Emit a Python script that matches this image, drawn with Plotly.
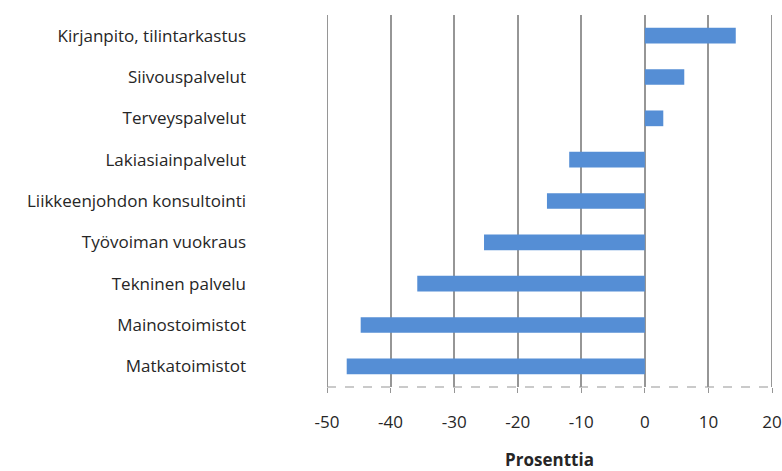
import plotly.graph_objects as go

categories = ["Matkatoimistot", "Mainostoimistot", "Tekninen palvelu", "Työvoiman vuokraus",
              "Liikkeenjohdon konsultointi", "Lakiasiainpalvelut", "Terveyspalvelut",
              "Siivouspalvelut", "Kirjanpito, tilintarkastus"]
values = [-46.9, -44.7, -35.8, -25.3, -15.4, -11.9, 2.9, 6.2, 14.3]
x_ticks = [-50, -40, -30, -20, -10, 0, 10, 20]
x_title = "Prosenttia"

FONT = "'Open Sans', sans-serif"
FS = 17
GRID = "#969696"
TXT = "#262626"

fig = go.Figure(go.Bar(
    x=values, y=categories, orientation="h",
    marker=dict(color="#558ED5", line=dict(width=0)),
    width=0.38,
    hoverinfo="skip",
))

fig.update_layout(
    width=782, height=471,
    margin=dict(l=327, r=10, t=15, b=84, autoexpand=False),
    plot_bgcolor="white", paper_bgcolor="white",
    showlegend=False,
    font=dict(family=FONT, size=FS, color=TXT),
    xaxis=dict(
        range=[-50, 20], tickvals=x_ticks, ticktext=[str(v) for v in x_ticks],
        showgrid=True, gridcolor=GRID, gridwidth=2,
        zeroline=False, showline=False, automargin=False,
        ticks="outside", ticklen=5, tickcolor=GRID, tickwidth=1,
        ticklabelstandoff=15,
        tickfont=dict(size=FS, color=TXT),
        title=dict(text="<b>" + x_title + "</b>", font=dict(size=FS, color=TXT), standoff=26),
    ),
    yaxis=dict(
        range=[-0.5, 8.5], showgrid=False, zeroline=False, showline=False,
        automargin=False,
        ticks="", ticklabelstandoff=80,
        tickfont=dict(size=FS, color=TXT),
    ),
)

# boundary grid lines (Plotly skips grid lines on the range edges)
for xv in (x_ticks[0], x_ticks[-1]):
    fig.add_shape(type="line", xref="x", yref="paper", x0=xv, x1=xv, y0=0, y1=1,
                  layer="below", line=dict(color=GRID, width=2))

fig.add_shape(type="line", xref="x", yref="paper", x0=x_ticks[0], x1=x_ticks[-1], y0=0, y1=0,
              line=dict(color=GRID, width=1.2, dash="dash"))

# remove the default page margin so the figure fills the window exactly
post = "document.body.style.margin='0';document.body.style.overflow='hidden';"

fig.write_html("out.html", post_script=post, config={"displayModeBar": False, "staticPlot": True})
